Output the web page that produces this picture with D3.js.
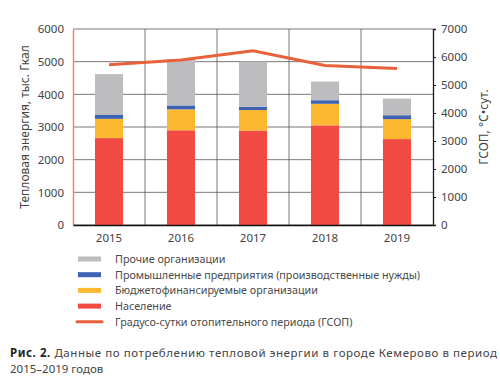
<!DOCTYPE html>
<html><head><meta charset="utf-8">
<script src="https://cdn.jsdelivr.net/npm/d3@7"></script>
<style>body{margin:0;background:#fff}svg{display:block}text{font-family:"Noto Sans",sans-serif;fill:#444}</style>
</head><body>
<svg id="c" width="500" height="383"></svg>
<script>
const years = ["2015","2016","2017","2018","2019"];
const naselenie = [2660, 2900, 2890, 3050, 2630];
const budget = [590, 640, 630, 660, 610];
const prom = [130, 120, 100, 110, 120];
const prochie = [1240, 1420, 1380, 570, 510];
const gsop = [5720, 5890, 6220, 5700, 5590];
const leftTicks = [0,1000,2000,3000,4000,5000,6000];
const rightTicks = [0,1000,2000,3000,4000,5000,6000,7000];
const seriesNames = ["Население","Бюджетофинансируемые организации","Промышленные предприятия (производственные нужды)","Прочие организации"];
const seriesColors = ["#F04A42","#FDB832","#3D62B3","#BDBCBE"];
const lineName = "Градусо-сутки отопительного периода (ГСОП)";
const lineColor = "#E8613A";

const svg = d3.select("#c");
const L = 73, R = 433, T = 29, B = 225;
const x = d3.scaleBand().domain(years).range([L, R]).paddingInner(0.61).paddingOuter(0.305);
const y = d3.scaleLinear().domain([0, 6000]).range([B, T]);
const y2 = d3.scaleLinear().domain([0, 7000]).range([B, T]);

// grid
const g = svg.append("g");
g.selectAll(".hg").data(leftTicks).join("line")
  .attr("x1", L).attr("x2", R).attr("y1", d => y(d)).attr("y2", d => y(d))
  .attr("stroke", "#5a5550").attr("stroke-width", 0.8);
const bounds = d3.range(1, years.length).map(i => x(years[i]) - x.step()*x.paddingInner()/2);
g.selectAll(".vg").data(bounds).join("line")
  .attr("x1", d => d).attr("x2", d => d).attr("y1", T).attr("y2", B)
  .attr("stroke", "#5a5550").attr("stroke-width", 0.8);

// stacked bars
const rows = years.map((yr, i) => ({year: yr, s0: naselenie[i], s1: budget[i], s2: prom[i], s3: prochie[i]}));
const stack = d3.stack().keys(["s0","s1","s2","s3"])(rows);
svg.append("g").selectAll("g").data(stack).join("g")
  .attr("fill", (d, i) => seriesColors[i])
  .selectAll("rect").data(d => d).join("rect")
  .attr("x", d => x(d.data.year)).attr("width", x.bandwidth())
  .attr("y", d => y(d[1])).attr("height", d => y(d[0]) - y(d[1]));

// line
const line = d3.line().x((d, i) => x(years[i]) + x.bandwidth()/2).y(d => y2(d));
svg.append("path").datum(gsop).attr("d", line).attr("fill", "none")
  .attr("stroke", lineColor).attr("stroke-width", 3);

// axes
const la = svg.append("g").attr("transform", `translate(${L},0)`)
  .call(d3.axisLeft(y).tickValues(leftTicks).tickSize(0).tickPadding(9).tickFormat(d3.format("d")));
la.select(".domain").attr("stroke", "#EE8663").attr("stroke-width", 1.5);
la.selectAll("text").attr("font-size", 11.5).style("fill", "#444");

const ra = svg.append("g").attr("transform", `translate(${R},0)`)
  .call(d3.axisRight(y2).tickValues(rightTicks).tickSize(3).tickPadding(5).tickFormat(d3.format("d")));
ra.select(".domain").attr("stroke", "#1a1a1a").attr("stroke-width", 1.3);
ra.selectAll(".tick line").attr("stroke", "#1a1a1a");
ra.selectAll("text").attr("font-size", 11.5).style("fill", "#444");

const ba = svg.append("g").attr("transform", `translate(0,${B})`)
  .call(d3.axisBottom(x).tickSize(0).tickPadding(9));
ba.select(".domain").attr("stroke", "#111").attr("stroke-width", 1.5);
ba.selectAll("text").attr("font-size", 11.5).style("fill", "#444");

svg.append("text").attr("transform", `translate(29,${(T+B)/2}) rotate(-90)`)
  .attr("text-anchor", "middle").attr("font-size", 12).text("Тепловая энергия, тыс. Гкал");
svg.append("text").attr("transform", `translate(488,${(T+B)/2}) rotate(-90)`)
  .attr("text-anchor", "middle").attr("font-size", 12).text("ГСОП, °С•сут.");

// legend
const legItems = [
  {name: seriesNames[3], color: seriesColors[3], type: "rect"},
  {name: seriesNames[2], color: seriesColors[2], type: "rect"},
  {name: seriesNames[1], color: seriesColors[1], type: "rect"},
  {name: seriesNames[0], color: seriesColors[0], type: "rect"},
  {name: lineName, color: lineColor, type: "line"}
];
const lg = svg.append("g").selectAll("g").data(legItems).join("g")
  .attr("transform", (d, i) => `translate(78,${259 + i*15.7})`);
lg.filter(d => d.type === "rect").append("rect").attr("x", 0).attr("y", -2.5).attr("width", 23).attr("height", 5).attr("fill", d => d.color);
lg.filter(d => d.type === "line").append("line").attr("x1", -1).attr("x2", 24).attr("y1", 0).attr("y2", 0)
  .attr("stroke", d => d.color).attr("stroke-width", 3).attr("stroke-linecap", "round");
lg.append("text").attr("x", 37).attr("y", 4).attr("font-size", 10.75).style("fill", "#4a4a4a").text(d => d.name);

// caption
const cap = svg.append("text").attr("x", 10).attr("y", 357).attr("font-size", 11.5).attr("textLength", 487).attr("lengthAdjust", "spacing");
cap.append("tspan").attr("font-weight", "bold").style("fill", "#222").text("Рис. 2.");
cap.append("tspan").text(" Данные по потреблению тепловой энергии в городе Кемерово в период");
svg.append("text").attr("x", 10).attr("y", 373).attr("font-size", 11.5).text("2015–2019 годов");
</script>
</body></html>
